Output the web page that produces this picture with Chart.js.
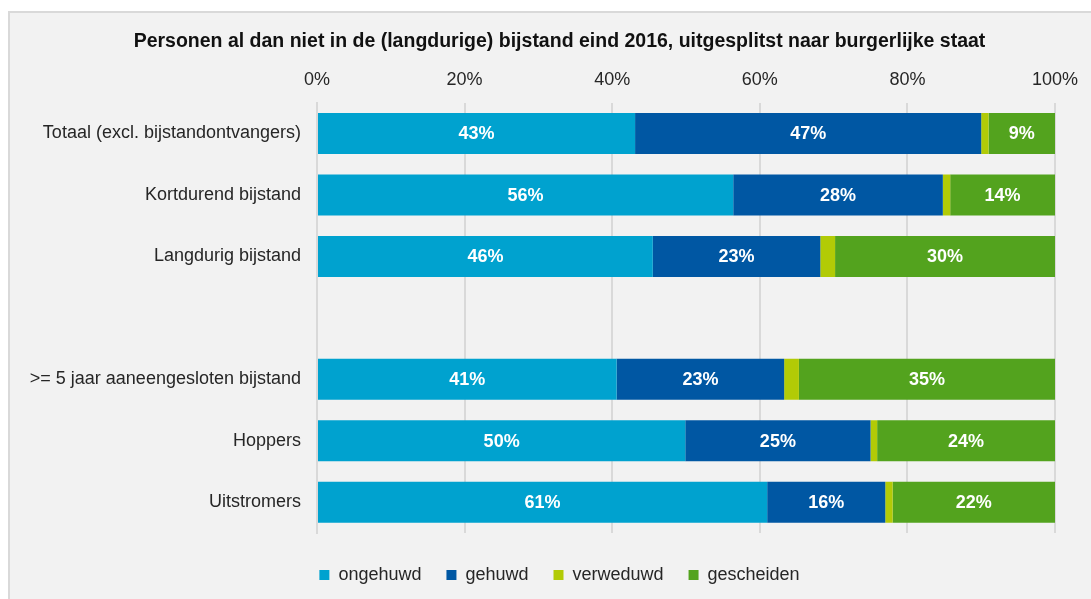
<!DOCTYPE html>
<html><head><meta charset="utf-8">
<script src="https://cdn.jsdelivr.net/npm/chart.js@4.4.1/dist/chart.umd.min.js"></script>
<style>
html,body{margin:0;padding:0;background:#fff;width:1091px;height:599px;overflow:hidden}
#panel{position:absolute;left:8px;top:11px;width:1083px;height:588px;background:#f2f2f2;border-left:2px solid #d9d9d9;border-top:2px solid #d9d9d9;box-sizing:border-box}
#wrap{position:absolute;left:10px;top:13px;width:1081px;height:586px}
</style></head><body>
<div id="panel"></div>
<div id="wrap"><canvas id="c"></canvas></div>
<script>
const categories = ['Totaal (excl. bijstandontvangers)','Kortdurend bijstand','Langdurig bijstand','','>= 5 jaar aaneengesloten bijstand','Hoppers','Uitstromers'];
const ongehuwd   = [43.1, 56.4, 45.5, null, 40.6, 49.9, 61.0];
const gehuwd     = [46.9, 28.4, 22.7, null, 22.7, 25.1, 16.0];
const verweduwd  = [1.0, 1.0, 2.0, null, 2.0, 0.9, 1.0];
const gescheiden = [9.0, 14.2, 29.8, null, 34.7, 24.1, 22.0];
const tickLabels = ['0%','20%','40%','60%','80%','100%'];

const FONT = '"Liberation Sans", Arial, sans-serif';

const segLabels = {
  id: 'segLabels',
  afterDatasetsDraw(chart) {
    const ctx = chart.ctx;
    ctx.save();
    ctx.font = 'bold 18px ' + FONT;
    ctx.fillStyle = '#ffffff';
    ctx.textAlign = 'center';
    ctx.textBaseline = 'middle';
    chart.data.datasets.forEach((ds, di) => {
      if (ds.showLabels === false) return;
      const meta = chart.getDatasetMeta(di);
      meta.data.forEach((el, i) => {
        const v = ds.data[i];
        if (v == null) return;
        const p = el.getCenterPoint();
        ctx.fillText(Math.round(v) + '%', p.x, p.y + 1);
      });
    });
    ctx.restore();
  }
};

new Chart(document.getElementById('c'), {
  type: 'bar',
  data: {
    labels: categories,
    datasets: [
      {label: 'ongehuwd', data: ongehuwd, backgroundColor: '#00a2cf'},
      {label: 'gehuwd', data: gehuwd, backgroundColor: '#0057a3'},
      {label: 'verweduwd', data: verweduwd, backgroundColor: '#b2cb06', showLabels: false},
      {label: 'gescheiden', data: gescheiden, backgroundColor: '#53a31e'}
    ]
  },
  options: {
    indexAxis: 'y',
    responsive: true,
    maintainAspectRatio: false,
    animation: false,
    datasets: {bar: {categoryPercentage: 1, barPercentage: 0.667, borderWidth: 0}},
    layout: {padding: {left: 18, right: 0, top: 0, bottom: 5}},
    scales: {
      x: {
        position: 'top',
        stacked: true,
        min: 0, max: 100,
        ticks: {stepSize: 20, padding: 12, color: '#262626', font: {family: FONT, size: 18},
          callback: (v, i) => tickLabels[i]},
        grid: {color: '#d9d9d9', lineWidth: 2, drawTicks: false},
        border: {display: false},
        afterFit: (s) => { s.height = 49; s.paddingRight = 36; }
      },
      y: {
        stacked: true,
        ticks: {padding: 16, color: '#262626', font: {family: FONT, size: 18}},
        grid: {display: false, drawTicks: false},
        border: {display: true, color: '#d9d9d9', width: 2},
        afterFit: (s) => { s.width = 289; }
      }
    },
    plugins: {
      title: {
        display: true,
        text: 'Personen al dan niet in de (langdurige) bijstand eind 2016, uitgesplitst naar burgerlijke staat',
        color: '#111111',
        font: {family: FONT, size: 19.5, weight: 'bold'},
        padding: {top: 17.3, bottom: 0}
      },
      legend: {
        position: 'bottom',
        title: {display: true, text: ' ', font: {size: 1, lineHeight: 1}, padding: {top: 7, bottom: 0}},
        labels: {boxWidth: 10, boxHeight: 10, padding: 25, color: '#262626', font: {family: FONT, size: 18}}
      },
      tooltip: {enabled: false}
    }
  },
  plugins: [segLabels]
});
</script>
</body></html>
